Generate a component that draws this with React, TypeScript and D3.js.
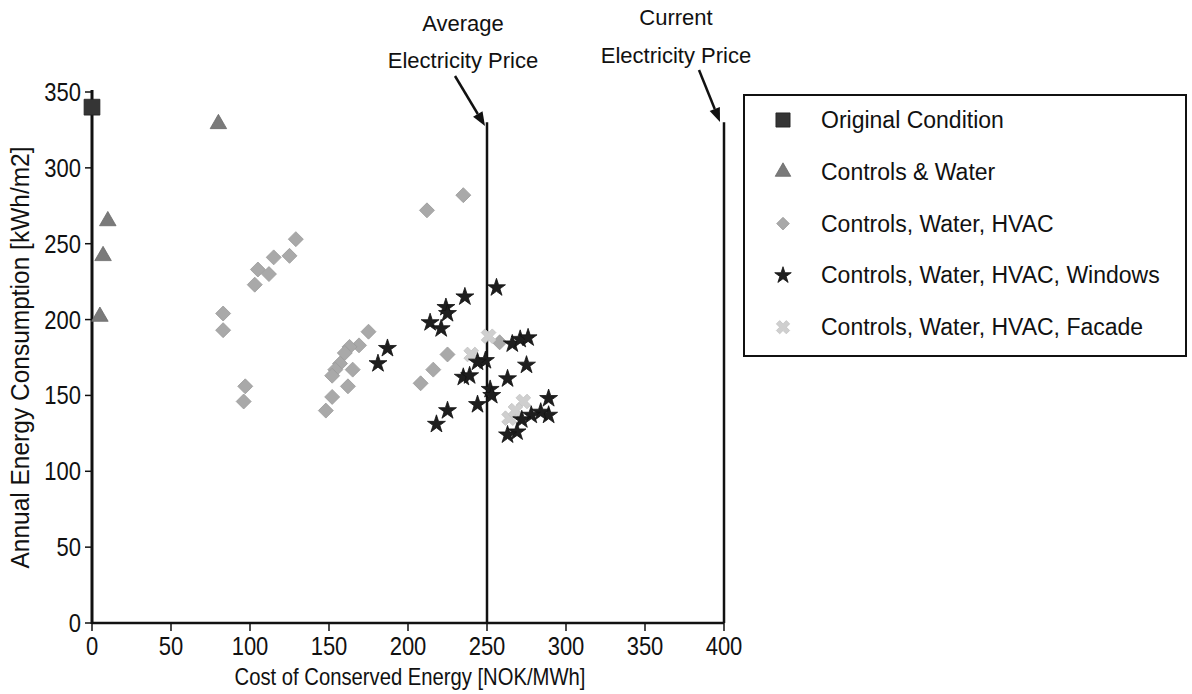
import React from "react";
import * as d3 from "d3";

type Pt = [number, number];

// Cost of conserved energy [NOK/MWh], annual consumption [kWh/m2]
const originalCondition: Pt[] = [[0, 340]];

const controlsWater: Pt[] = [
  [80, 329], [10, 265], [7, 242], [5, 202],
];

const controlsWaterHvac: Pt[] = [
  [129, 253], [125, 242], [115, 241], [105, 233], [112, 230], [103, 223],
  [83, 204], [83, 193], [97, 156], [96, 146],
  [175, 192], [169, 183], [163, 182], [160, 178], [157, 171], [154, 167],
  [165, 167], [152, 163], [162, 156], [152, 149], [148, 140],
  [235, 282], [212, 272], [225, 177], [216, 167], [208, 158],
  [258, 185],
];

const controlsWaterHvacWindows: Pt[] = [
  [256, 221], [236, 215], [224, 208], [225, 204], [214, 198], [221, 194],
  [187, 181], [181, 171],
  [266, 184], [271, 187], [276, 188],
  [249, 173], [244, 172], [275, 170],
  [235, 162], [239, 163], [263, 161],
  [252, 154], [253, 150], [244, 144], [225, 140], [218, 131],
  [289, 148], [289, 137], [284, 139], [278, 137], [272, 134], [269, 126], [263, 124],
];

const controlsWaterHvacFacade: Pt[] = [
  [240, 177], [251, 189], [273, 146], [264, 135], [268, 140],
];

const seriesNames = [
  "Original Condition",
  "Controls & Water",
  "Controls, Water, HVAC",
  "Controls, Water, HVAC, Windows",
  "Controls, Water, HVAC, Facade",
];

const xTicks = [0, 50, 100, 150, 200, 250, 300, 350, 400];
const yTicks = [0, 50, 100, 150, 200, 250, 300, 350];

const averagePrice = 250;
const currentPrice = 400;
const priceLineTop = 330;

const width = 1192;
const height = 694;
const left = 92;
const right = 724;
const top = 92;
const bottom = 623;

const x = d3.scaleLinear().domain([0, 400]).range([left, right]);
const y = d3.scaleLinear().domain([0, 350]).range([bottom, top]);

const sans = "'Liberation Sans', Arial, Helvetica, sans-serif";

type Style = {
  path: string;
  fill: string;
  stroke: string;
  rotate: number;
};

const styles: Style[] = [
  { path: d3.symbol(d3.symbolSquare, 250)()!, fill: "#353535", stroke: "#222", rotate: 0 },
  { path: d3.symbol(d3.symbolTriangle, 118)()!, fill: "#7a7a7a", stroke: "#6a6a6a", rotate: 0 },
  { path: d3.symbol(d3.symbolSquare, 112)()!, fill: "#a9a9a9", stroke: "#9c9c9c", rotate: 45 },
  { path: d3.symbol(d3.symbolStar, 100)()!, fill: "#1e1e1e", stroke: "#111", rotate: 0 },
  { path: d3.symbol(d3.symbolCross, 135)()!, fill: "#cfcfcf", stroke: "#c4c4c4", rotate: 45 },
];

const legendStyles: Style[] = [
  { path: d3.symbol(d3.symbolSquare, 200)()!, fill: "#353535", stroke: "#222", rotate: 0 },
  { path: d3.symbol(d3.symbolTriangle, 105)()!, fill: "#7a7a7a", stroke: "#6a6a6a", rotate: 0 },
  { path: d3.symbol(d3.symbolSquare, 80)()!, fill: "#a9a9a9", stroke: "#9c9c9c", rotate: 45 },
  { path: d3.symbol(d3.symbolStar, 85)()!, fill: "#1e1e1e", stroke: "#111", rotate: 0 },
  { path: d3.symbol(d3.symbolCross, 110)()!, fill: "#cfcfcf", stroke: "#c4c4c4", rotate: 45 },
];

const allSeries: Pt[][] = [
  originalCondition,
  controlsWater,
  controlsWaterHvac,
  controlsWaterHvacWindows,
  controlsWaterHvacFacade,
];

// draw order: lighter series first, dark stars on top of diamonds
const drawOrder = [2, 4, 3, 1, 0];

// condensed look for axis text
const squeeze = 0.88;

function Arrow({ x1, y1, x2, y2 }: { x1: number; y1: number; x2: number; y2: number }) {
  const ang = Math.atan2(y2 - y1, x2 - x1);
  const len = 14;
  const half = 5.5;
  const bx = x2 - len * Math.cos(ang);
  const by = y2 - len * Math.sin(ang);
  const px = -Math.sin(ang) * half;
  const py = Math.cos(ang) * half;
  return (
    <g>
      <line x1={x1} y1={y1} x2={bx} y2={by} stroke="#111" strokeWidth={2.5} />
      <path d={`M${x2},${y2}L${bx + px},${by + py}L${bx - px},${by - py}Z`} fill="#111" />
    </g>
  );
}

function NarrowText({ x: tx, y: ty, anchor, size, children, rotate = 0, sx = squeeze }: {
  x: number; y: number; anchor: string; size: number; children: React.ReactNode; rotate?: number; sx?: number;
}) {
  return (
    <text
      transform={`translate(${tx},${ty}) rotate(${rotate}) scale(${sx},1)`}
      textAnchor={anchor}
      fontFamily={sans}
      fontSize={size}
      fill="#111"
    >
      {children}
    </text>
  );
}

export default function App() {
  return (
    <svg width={width} height={height} style={{ display: "block", position: "absolute", left: 0, top: 0, background: "#fff" }}>
      <rect x={0} y={0} width={width} height={height} fill="#fff" />

      {/* price reference lines */}
      {[averagePrice, currentPrice].map((p) => (
        <line key={p} x1={x(p)} x2={x(p)} y1={y(priceLineTop)} y2={bottom} stroke="#111" strokeWidth={2.5} />
      ))}

      {/* axes */}
      <line x1={left} x2={left} y1={top - 2} y2={bottom + 1} stroke="#111" strokeWidth={3} />
      <line x1={left} x2={right} y1={bottom} y2={bottom} stroke="#111" strokeWidth={2.5} />
      {yTicks.map((t) => (
        <g key={"y" + t}>
          <line x1={left - 7} x2={left} y1={y(t)} y2={y(t)} stroke="#111" strokeWidth={1.5} />
          <NarrowText x={left - 11} y={y(t) + 9} anchor="end" size={25}>{t}</NarrowText>
        </g>
      ))}
      {xTicks.map((t) => (
        <g key={"x" + t}>
          <line x1={x(t)} x2={x(t)} y1={bottom} y2={bottom + 8} stroke="#111" strokeWidth={1.5} />
          <NarrowText x={x(t)} y={bottom + 32} anchor="middle" size={25}>{t}</NarrowText>
        </g>
      ))}
      <NarrowText x={(left + right) / 2 + 2} y={685} anchor="middle" size={23}>
        Cost of Conserved Energy [NOK/MWh]
      </NarrowText>
      <NarrowText x={29} y={(top + bottom) / 2} anchor="middle" size={25} rotate={-90} sx={0.98}>
        Annual Energy Consumption [kWh/m2]
      </NarrowText>

      {/* data points */}
      {drawOrder.map((si) => (
        <g key={"s" + si}>
          {allSeries[si].map((d, i) => (
            <path
              key={i}
              d={styles[si].path}
              transform={`translate(${x(d[0])},${y(d[1])}) rotate(${styles[si].rotate})`}
              fill={styles[si].fill}
              stroke={styles[si].stroke}
              strokeWidth={0.8}
            />
          ))}
        </g>
      ))}

      {/* price annotations */}
      <text x={463} y={31} textAnchor="middle" fontFamily={sans} fontSize={22} fill="#111">Average</text>
      <text x={463} y={68} textAnchor="middle" fontFamily={sans} fontSize={22} fill="#111">Electricity Price</text>
      <Arrow x1={455} y1={76} x2={485} y2={126} />
      <text x={676} y={25} textAnchor="middle" fontFamily={sans} fontSize={22} fill="#111">Current</text>
      <text x={676} y={63} textAnchor="middle" fontFamily={sans} fontSize={22} fill="#111">Electricity Price</text>
      <Arrow x1={699} y1={70} x2={720} y2={122} />

      {/* legend */}
      <rect x={744} y={95} width={442} height={261} fill="#fff" stroke="#111" strokeWidth={2} />
      {seriesNames.map((name, i) => {
        const cy = 120 + i * 51.8;
        return (
          <g key={name}>
            <path
              d={legendStyles[i].path}
              transform={`translate(783,${cy}) rotate(${legendStyles[i].rotate})`}
              fill={legendStyles[i].fill}
              stroke={legendStyles[i].stroke}
              strokeWidth={0.8}
            />
            <text x={821} y={cy} dy="0.35em" fontFamily={sans} fontSize={23} fill="#111">
              {name}
            </text>
          </g>
        );
      })}
    </svg>
  );
}
